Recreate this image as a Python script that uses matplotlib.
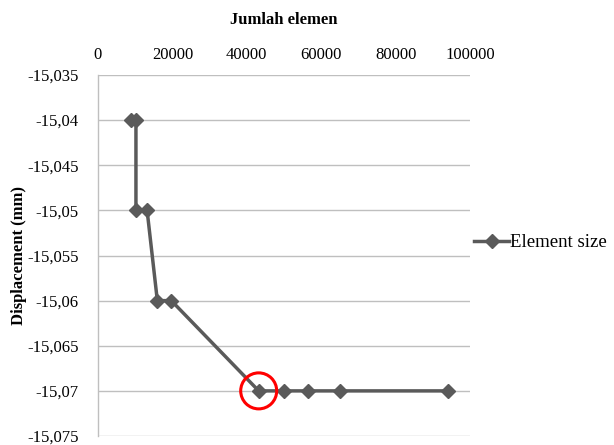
import matplotlib
matplotlib.use("Agg")
import matplotlib.pyplot as plt
from matplotlib.ticker import FuncFormatter, MultipleLocator
from matplotlib.patches import Ellipse

# Mesh convergence: number of elements vs. displacement
jumlah_elemen = [9000, 10200, 10200, 13200, 15950, 19700, 43200, 50000, 56500, 65100, 94000]
displacement = [-15.04, -15.04, -15.05, -15.05, -15.06, -15.06, -15.07, -15.07, -15.07, -15.07, -15.07]
series_name = "Element size"
highlight_index = 6

plt.rcParams["font.family"] = ["Liberation Serif", "DejaVu Serif"]

fig = plt.figure(figsize=(6.14, 4.45), dpi=100)
ax = fig.add_axes([98 / 614, 9 / 445, 372 / 614, 361 / 445])

line_color = "#5a5a5a"
ax.plot(jumlah_elemen, displacement, color=line_color, lw=2.5, marker="D",
        markersize=7, markeredgecolor=line_color, markerfacecolor=line_color,
        label=series_name, zorder=3)

ax.set_xlim(0, 100000)
ax.set_ylim(-15.075, -15.035)
ax.xaxis.set_major_locator(MultipleLocator(20000))
ax.yaxis.set_major_locator(MultipleLocator(0.005))
ax.yaxis.set_major_formatter(FuncFormatter(lambda v, p: f"{round(v, 3):g}".replace(".", ",")))
ax.xaxis.tick_top()
ax.xaxis.set_label_position("top")
ax.tick_params(axis="both", labelsize=12, length=0)
ax.tick_params(axis="x", pad=9)
ax.tick_params(axis="y", pad=14)

ax.grid(axis="y", color="#bfbfbf", lw=1)
ax.set_axisbelow(True)
for s in ["top", "right", "bottom"]:
    ax.spines[s].set_visible(False)
ax.spines["left"].set_color("#bfbfbf")
ax.spines["left"].set_linewidth(1)

ax.set_xlabel("Jumlah elemen", fontsize=12, fontweight="bold", labelpad=16)
ax.set_ylabel("Displacement (mm)", fontsize=12, fontweight="bold", labelpad=0)

# Highlight the converged point
hx, hy = jumlah_elemen[highlight_index], displacement[highlight_index]
ax.add_patch(Ellipse((hx, hy), width=36 / 3.72 * 1000, height=36 / 361 * 0.04,
                     fill=False, edgecolor="#ff0000", lw=2.2, zorder=4, clip_on=False))

ax.legend(loc="center left", bbox_to_anchor=(1.0, 0.535), frameon=False,
          fontsize=13.5, handlelength=1.9, handletextpad=0.05, borderaxespad=0,
          borderpad=0.2)

fig.savefig("out.png", dpi=100)
